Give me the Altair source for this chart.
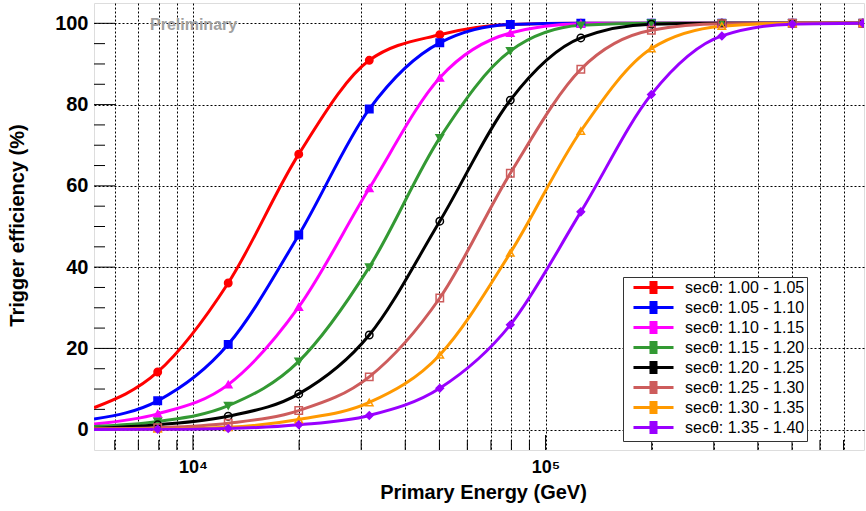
import altair as alt
import pandas as pd

# ---- data ----
series = [
    "secθ: 1.00 - 1.05", "secθ: 1.05 - 1.10", "secθ: 1.10 - 1.15", "secθ: 1.15 - 1.20",
    "secθ: 1.20 - 1.25", "secθ: 1.25 - 1.30", "secθ: 1.30 - 1.35", "secθ: 1.35 - 1.40",
]
colors = ["#ff0000", "#0000ff", "#ff00ff", "#339933", "#000000", "#cd5c5c", "#ff9900", "#9900ff"]
shapes = ["circle", "square", "triangle-up", "triangle-down", "circle", "square", "triangle-up", "diamond"]
fills = ["#ff0000", "#0000ff", "#ff00ff", "#339933", "transparent", "transparent", "transparent", "#9900ff"]

# marker energies (GeV)
energy = [7943, 12589, 19953, 31623, 50119, 79433, 125893, 199526, 316228, 501187, 794328]
# curve start at the left edge of the frame
energy_start = 5240

eff_100_105 = [14.2, 36.1, 67.8, 90.9, 97.2, 99.7, 100, 100, 100, 100, 100]
eff_105_110 = [7.1, 21.0, 47.9, 78.9, 95.2, 99.7, 100, 100, 100, 100, 100]
eff_110_115 = [3.9, 11.1, 30.2, 59.4, 86.6, 97.6, 99.9, 100, 100, 100, 100]
eff_115_120 = [2.0, 5.9, 16.8, 40.0, 71.8, 93.2, 99.5, 100, 100, 100, 100]
eff_120_125 = [1.2, 3.3, 8.8, 23.3, 51.3, 81.1, 96.4, 99.8, 100, 100, 100]
eff_125_130 = [0.5, 1.6, 4.7, 13.0, 32.4, 63.1, 88.7, 98.3, 99.9, 100, 100]
eff_130_135 = [0.2, 0.6, 2.5, 6.7, 18.4, 43.5, 73.5, 93.8, 99.3, 100, 100]
eff_135_140 = [0.1, 0.3, 1.2, 3.5, 10.2, 25.8, 53.6, 82.5, 96.9, 99.8, 100]
eff_start = [5.4, 2.6, 1.4, 0.8, 0.3, 0.2, 0.1, 0.05]

all_eff = [eff_100_105, eff_105_110, eff_110_115, eff_115_120,
           eff_120_125, eff_125_130, eff_130_135, eff_135_140]

ytick_major = [0, 20, 40, 60, 80, 100]
ytick_minor = [5, 10, 15, 25, 30, 35, 45, 50, 55, 65, 70, 75, 85, 90, 95]
xtick_major = [10000, 100000]
xtick_minor = [6000, 7000, 8000, 9000, 20000, 30000, 40000, 50000, 60000, 70000,
               80000, 90000, 200000, 300000, 400000, 500000, 600000, 700000]

# ---- tables ----
line_rows, point_rows = [], []
for i, (s, vals) in enumerate(zip(series, all_eff)):
    line_rows.append({"E": energy_start, "eff": eff_start[i], "series": s, "k": i})
    for e, v in zip(energy, vals):
        line_rows.append({"E": e, "eff": v, "series": s, "k": i})
        point_rows.append({"E": e, "eff": v, "series": s, "k": i})
line_df = pd.DataFrame(line_rows)
point_df = pd.DataFrame(point_rows)

FONT = "Liberation Sans"
W, H = 770, 447

xscale = alt.Scale(type="log", domain=[energy_start, 800000], nice=False)
yscale = alt.Scale(domain=[-5, 105], nice=False, zero=False)

xaxis = alt.Axis(
    values=sorted(xtick_major + xtick_minor),
    labelExpr="datum.value == 10000 ? '10⁴' : (datum.value == 100000 ? '10⁵' : '')",
    grid=True, gridDash=[2, 2], gridColor="black", gridOpacity=1, gridWidth=1,
    ticks=False, domain=False, labelFont=FONT, labelFontSize=18, labelFontWeight="bold",
    labelColor="black", labelPadding=8, labelOverlap=False, labelFlush=False,
    title="Primary Energy (GeV)", titleFont=FONT, titleFontSize=20, titleFontWeight="bold",
    titleColor="black", titleX=389, titleY=42, titleBaseline="middle", titleAlign="center",
)
yaxis = alt.Axis(
    values=ytick_major, grid=True, gridDash=[2, 2], gridColor="black", gridOpacity=1,
    gridWidth=1, ticks=False, domain=False, labelFont=FONT, labelFontSize=20,
    labelFontWeight="bold", labelColor="black", labelPadding=6,
    title="Trigger efficiency (%)", titleFont=FONT, titleFontSize=20, titleFontWeight="bold",
    titleColor="black", titleX=-77, titleY=222, titleBaseline="middle", titleAlign="center",
    titleAngle=270,
)

# legend glyph: horizontal line + error bar with caps + small marker (units of 7 px)
legend_path = ("M-2.86,0H2.86M0,-0.71V0.71M-0.57,-0.71H0.57M-0.57,0.71H0.57"
               "M-0.36,-0.36H0.36V0.36H-0.36Z")
legend = alt.Legend(
    title=None, orient="none", legendX=529, legendY=274, fillColor="white",
    strokeColor="#333333", padding=2, labelFont=FONT, labelFontSize=16, labelColor="black",
    symbolType=legend_path, symbolSize=196, symbolStrokeWidth=3, symbolOffset=20,
    labelOffset=23, rowPadding=-3.3, symbolOpacity=1,
)
color = alt.Color("series:N", scale=alt.Scale(domain=series, range=colors), sort=series, legend=legend)

lines = alt.Chart(line_df).mark_line(interpolate="monotone", strokeWidth=3, clip=True).encode(
    x=alt.X("E:Q", scale=xscale, axis=xaxis),
    y=alt.Y("eff:Q", scale=yscale, axis=yaxis),
    color=color,
    detail="k:O",
)

points = alt.Chart(point_df).mark_point(filled=False, opacity=1, strokeWidth=1.5, size=55, clip=True).encode(
    x=alt.X("E:Q", scale=xscale, axis=xaxis),
    y=alt.Y("eff:Q", scale=yscale, axis=yaxis),
    stroke=alt.Stroke("series:N", scale=alt.Scale(domain=series, range=colors), legend=None),
    shape=alt.Shape("series:N", scale=alt.Scale(domain=series, range=shapes), legend=None),
    fill=alt.Fill("series:N", scale=alt.Scale(domain=series, range=fills), legend=None),
)

ytmaj = alt.Chart(pd.DataFrame({"eff": ytick_major})).mark_rule(color="black", strokeWidth=1).encode(
    y=alt.Y("eff:Q", scale=yscale, axis=yaxis), x=alt.value(0), x2=alt.value(21))
ytmin = alt.Chart(pd.DataFrame({"eff": ytick_minor})).mark_rule(color="black", strokeWidth=1).encode(
    y=alt.Y("eff:Q", scale=yscale, axis=yaxis), x=alt.value(0), x2=alt.value(11))
xtmaj = alt.Chart(pd.DataFrame({"E": xtick_major})).mark_rule(color="black", strokeWidth=1).encode(
    x=alt.X("E:Q", scale=xscale, axis=xaxis), y=alt.value(H), y2=alt.value(H - 15))
xtmin = alt.Chart(pd.DataFrame({"E": xtick_minor})).mark_rule(color="black", strokeWidth=1).encode(
    x=alt.X("E:Q", scale=xscale, axis=xaxis), y=alt.value(H), y2=alt.value(H - 10))

prelim = alt.Chart(pd.DataFrame({"t": ["Preliminary"]})).mark_text(
    font=FONT, fontSize=16, fontWeight="bold", color="#a0a0a0", align="left", baseline="middle"
).encode(text="t:N", x=alt.value(56), y=alt.value(22))

chart = alt.layer(ytmin, ytmaj, xtmin, xtmaj, lines, points, prelim).properties(
    width=W, height=H,
    autosize=alt.AutoSizeParams(type="none"),
    padding={"left": 94, "top": 3, "right": 2, "bottom": 61},
).resolve_scale(shape="independent", fill="independent", stroke="independent").configure_view(
    stroke="black", strokeWidth=1.5).configure(background="white")

chart.save("out.html", embed_options={"renderer": "svg", "actions": False})
